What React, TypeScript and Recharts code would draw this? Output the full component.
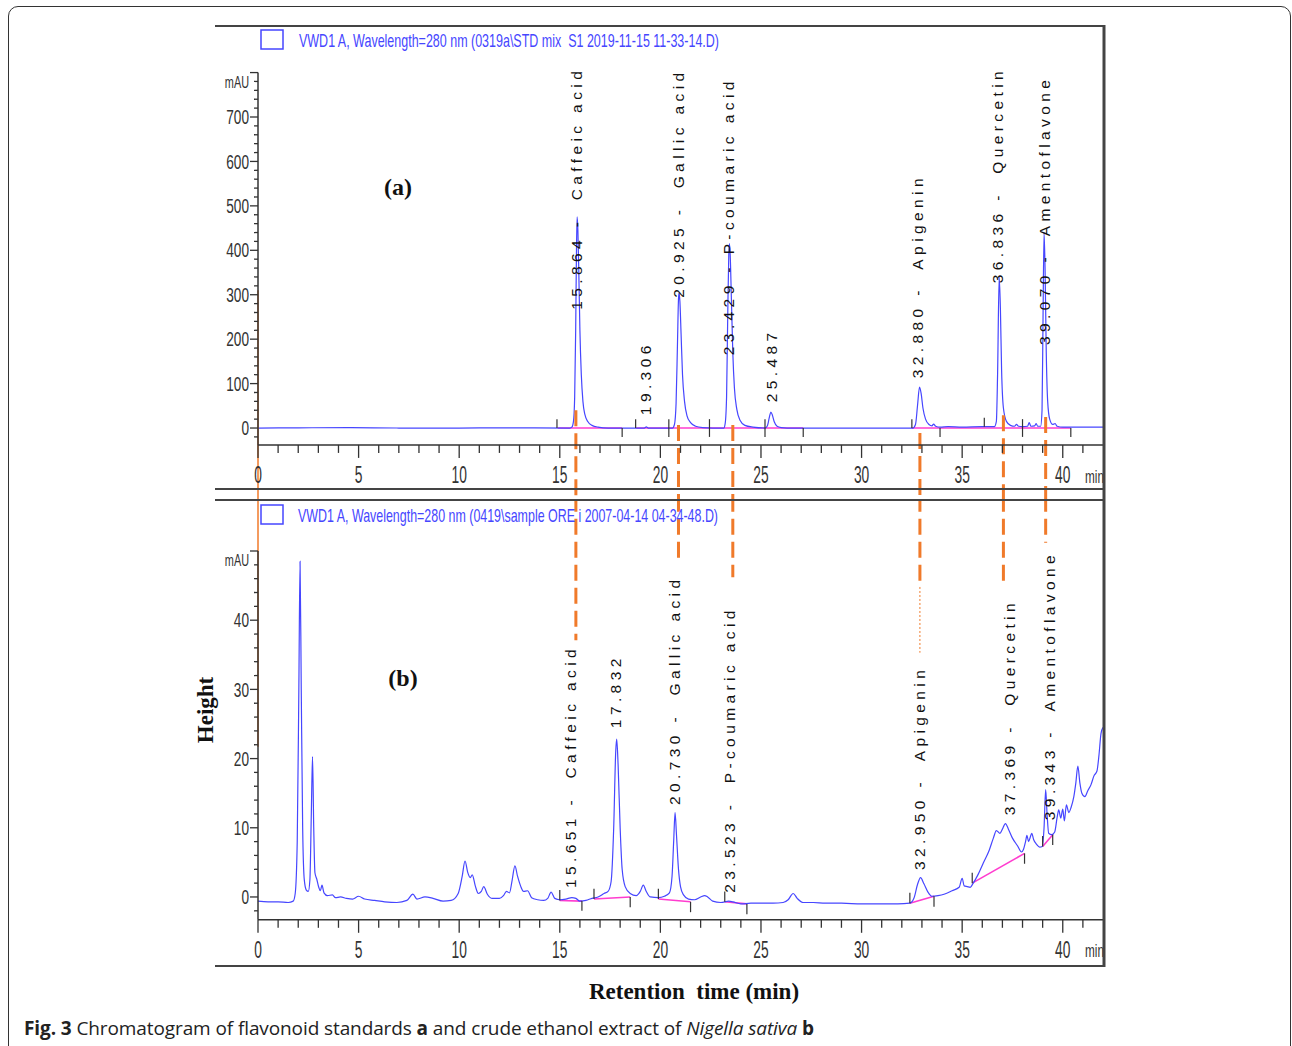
import React from 'react';
import { LineChart, Line, XAxis, YAxis, ReferenceLine, ReferenceDot } from 'recharts';

document.body.style.margin = '0';
document.documentElement.style.overflow = 'hidden';

// ---- data: panel (a) standards ----
const seriesNameA = 'VWD1 A, Wavelength=280 nm (0319a\\STD mix  S1 2019-11-15 11-33-14.D)';
const traceA: [number, number][] = [
  [0, 0], [2, 0.5], [4.5, 1], [7, 0], [10, 0], [12, 0.5], [15.5, 0], [15.6, 2], [15.68, 15], [15.74, 70],
  [15.79, 220], [15.83, 400], [15.86, 475], [15.9, 445], [15.95, 340], [16.0, 220], [16.07, 120], [16.15, 60],
  [16.25, 30], [16.4, 14], [16.6, 6], [16.9, 2], [17.4, 0], [19.2, 0], [19.3, 2.5], [19.4, 0], [20.6, 0],
  [20.7, 8], [20.78, 55], [20.85, 190], [20.9, 290], [20.93, 305], [20.97, 285], [21.03, 210], [21.1, 120],
  [21.2, 60], [21.32, 28], [21.5, 12], [21.75, 4], [22.1, 1], [22.6, 0], [23.15, 0], [23.22, 10], [23.29, 70],
  [23.35, 260], [23.4, 390], [23.43, 415], [23.47, 390], [23.53, 290], [23.6, 170], [23.68, 90], [23.8, 42],
  [23.95, 18], [24.2, 6], [24.6, 2], [25.2, 0], [25.32, 5], [25.42, 25], [25.49, 36], [25.56, 30], [25.66, 14],
  [25.8, 4], [26.0, 1], [26.3, 0], [32.55, 0], [32.68, 8], [32.78, 50], [32.88, 92], [32.96, 78], [33.05, 45],
  [33.18, 20], [33.35, 8], [33.5, 5], [33.58, 9], [33.68, 4], [33.9, 2], [34.3, 3], [35, 2], [36, 3], [36.6, 3],
  [36.7, 15], [36.76, 120], [36.84, 340], [36.9, 270], [36.96, 130], [37.05, 45], [37.2, 15], [37.4, 6],
  [37.6, 4], [37.7, 8], [37.8, 4], [38.0, 3], [38.25, 4], [38.33, 12], [38.42, 4], [38.6, 5], [38.68, 10],
  [38.75, 4], [38.9, 4], [38.97, 40], [39.02, 250], [39.07, 440], [39.12, 360], [39.18, 170], [39.25, 60],
  [39.35, 20], [39.5, 8], [39.62, 10], [39.72, 4], [40.0, 2], [41, 2], [42, 2],
];
const peaksA = [
  { t: 15.85, v: 266, text: '15.864 -  Caffeic acid' },
  { t: 19.28, v: 29, text: '19.306' },
  { t: 20.92, v: 293, text: '20.925 -  Gallic acid' },
  { t: 23.41, v: 164, text: '23.429 - P-coumaric acid' },
  { t: 25.5, v: 58, text: '25.487' },
  { t: 32.8, v: 112, text: '32.880 -  Apigenin' },
  { t: 36.77, v: 326, text: '36.836 -  Quercetin' },
  { t: 39.07, v: 187, text: '39.070 -  Amentoflavone' },
];
const baselinesA: [number, number, number, number][] = [
  [14.9, 0, 18.1, 0], [18.8, 0, 27.1, 0], [32.5, 0, 40.4, 0],
];
const marksA: [number, number, number][] = [
  [14.86, 0, 20], [18.1, 0, -20], [18.77, 0, 20], [20.42, 20, -20], [22.44, 20, -20], [25.2, 20, -20],
  [27.1, 0, -20], [32.5, 0, 20], [33.9, 0, -20], [36.1, 3, 23], [38.0, 20, -20], [40.4, 0, -20],
];
const yTicksA = [-20, 0, 20, 40, 60, 80, 100, 120, 140, 160, 180, 200, 220, 240, 260, 280, 300, 320, 340, 360,
  380, 400, 420, 440, 460, 480, 500, 520, 540, 560, 580, 600, 620, 640, 660, 680, 700, 720, 740, 760, 780, 800];
const yLabelsA = [0, 100, 200, 300, 400, 500, 600, 700];

// ---- data: panel (b) Nigella sativa extract ----
const seriesNameB = 'VWD1 A, Wavelength=280 nm (0419\\sample ORE i 2007-04-14 04-34-48.D)';
const traceB: [number, number][] = [
  [0, -0.6], [0.5, -0.7], [1.0, -0.7], [1.5, -0.8], [1.75, -0.6], [1.85, 0.5], [1.95, 8], [2.03, 30], [2.09, 48.5],
  [2.15, 30], [2.22, 10], [2.3, 2.5], [2.4, 1.0], [2.5, 0.8], [2.58, 2.5], [2.65, 12], [2.71, 20.3], [2.77, 10],
  [2.83, 3.5], [2.92, 2.6], [3.02, 1.4], [3.1, 0.9], [3.18, 1.7], [3.28, 0.6], [3.45, 0.2], [3.7, 0.3], [3.85, -0.1],
  [4.1, 0.0], [4.4, -0.2], [4.7, -0.3], [5.0, 0.1], [5.3, -0.3], [5.8, -0.5], [6.3, -0.7], [6.9, -0.8], [7.4, -0.5],
  [7.7, 0.4], [7.9, -0.3], [8.3, 0.0], [8.7, -0.2], [9.2, -0.6], [9.6, -0.5], [9.95, 0.5], [10.15, 3.0], [10.29, 5.2],
  [10.42, 3.6], [10.55, 2.8], [10.65, 3.2], [10.8, 1.6], [10.95, 0.5], [11.1, 0.8], [11.22, 1.5], [11.4, 0.4],
  [11.65, -0.2], [12.0, -0.2], [12.2, 0.2], [12.35, 0.8], [12.5, 0.6], [12.62, 2.2], [12.77, 4.5], [12.9, 3.0],
  [13.05, 1.6], [13.2, 0.8], [13.4, 0.9], [13.6, -0.1], [13.9, -0.4], [14.2, -0.5], [14.4, -0.2], [14.57, 0.7],
  [14.75, -0.2], [15.0, -0.4], [15.3, -0.3], [15.6, -0.1], [15.8, -0.2], [16.0, -0.6], [16.3, -0.5], [16.6, -0.2],
  [16.9, 0.0], [17.2, 0.5], [17.4, 0.8], [17.55, 2.2], [17.68, 10], [17.78, 21], [17.83, 22.8], [17.9, 19],
  [18.0, 10], [18.1, 4], [18.25, 1.5], [18.5, 0.5], [18.8, 0.2], [19.0, 0.8], [19.15, 1.7], [19.3, 0.8], [19.5, 0.0],
  [19.9, -0.1], [20.2, 0.1], [20.45, 0.6], [20.58, 3], [20.66, 8], [20.73, 12.2], [20.8, 9], [20.9, 4], [21.0, 1.5],
  [21.15, 0.3], [21.4, -0.3], [21.7, -0.4], [22.0, 0.0], [22.2, 0.2], [22.35, 0.0], [22.6, -0.6], [23.0, -0.8],
  [23.4, -0.6], [23.6, -0.7], [24.0, -1.0], [24.5, -0.9], [25.0, -0.9], [25.6, -0.9], [26.1, -0.8], [26.35, -0.4],
  [26.6, 0.5], [26.8, -0.2], [27.1, -0.8], [27.6, -0.8], [28.2, -0.9], [29.0, -0.9], [30.0, -1.0], [31.0, -1.0],
  [31.8, -1.0], [32.4, -0.9], [32.6, -0.2], [32.78, 1.8], [32.93, 2.8], [33.1, 1.9], [33.3, 0.7], [33.5, 0.1],
  [33.8, 0.2], [34.1, 0.4], [34.5, 0.9], [34.85, 1.4], [35.0, 2.7], [35.1, 1.6], [35.25, 1.5], [35.4, 1.4],
  [35.55, 2.0], [35.8, 3.3], [36.05, 4.9], [36.35, 6.8], [36.55, 8.5], [36.7, 9.6], [36.88, 9.2], [37.0, 9.8],
  [37.15, 10.6], [37.3, 9.8], [37.5, 8.5], [37.75, 7.4], [37.95, 6.5], [38.05, 6.9], [38.15, 8.0], [38.22, 8.9],
  [38.3, 8.0], [38.38, 8.6], [38.46, 9.2], [38.55, 8.3], [38.7, 7.6], [38.85, 7.2], [38.98, 7.3], [39.07, 10],
  [39.15, 15.5], [39.22, 12], [39.3, 9.2], [39.45, 9.0], [39.6, 9.4], [39.72, 11.5], [39.8, 12.6], [39.9, 11.4],
  [40.0, 12.7], [40.08, 11], [40.18, 13.3], [40.3, 12.2], [40.42, 13], [40.55, 14.5], [40.65, 16.5], [40.75, 18.9],
  [40.85, 16.5], [40.95, 15.0], [41.1, 14.5], [41.25, 15.4], [41.4, 16.2], [41.55, 17.5], [41.7, 18.2],
  [41.8, 20.5], [41.9, 23.6], [42.0, 24.5],
];
const peaksB = [
  { t: 15.55, v: 1.3, text: '15.651 -  Caffeic acid' },
  { t: 17.79, v: 24.4, text: '17.832' },
  { t: 20.72, v: 13.3, text: '20.730 -  Gallic acid' },
  { t: 23.45, v: 0.6, text: '23.523 -  P-coumaric acid' },
  { t: 32.9, v: 3.9, text: '32.950 -  Apigenin' },
  { t: 37.37, v: 11.8, text: '37.369 -  Quercetin' },
  { t: 39.35, v: 11.1, text: '39.343 -  Amentoflavone' },
];
const baselinesB: [number, number, number, number][] = [
  [15.0, -0.5, 16.1, -0.6], [16.7, -0.3, 18.5, 0.0], [19.9, -0.3, 21.5, -0.7], [23.2, -0.7, 24.3, -1.0],
  [32.4, -0.9, 33.6, 0.1], [35.5, 2.0, 38.1, 6.3], [39.0, 7.3, 39.5, 9.0],
];
const marksB: [number, number, number][] = [
  [15.0, -0.5, 1.0], [16.1, -0.6, -2.0], [16.7, -0.3, 1.2], [18.5, 0.0, -1.5], [19.9, -0.3, 1.2],
  [21.5, -0.7, -2.2], [23.2, -0.7, 0.8], [24.3, -1.0, -2.5], [32.4, -0.9, 0.6], [33.6, 0.1, -1.4],
  [35.5, 2.0, 3.5], [38.1, 6.3, 4.8], [39.0, 7.3, 8.8], [39.5, 9.0, 7.5],
];
const yTicksB = [-2, 0, 2, 4, 6, 8, 10, 12, 14, 16, 18, 20, 22, 24, 26, 28, 30, 32, 34, 36, 38, 40, 42, 44, 46, 48, 50];
const yLabelsB = [0, 10, 20, 30, 40];

// ---- shared axis ticks + peak-matching guides ----
const xTicks = [0, 1, 2, 3, 4, 5, 6, 7, 8, 9, 10, 11, 12, 13, 14, 15, 16, 17, 18, 19, 20, 21, 22, 23, 24, 25,
  26, 27, 28, 29, 30, 31, 32, 33, 34, 35, 36, 37, 38, 39, 40, 41, 42];
const xLabels = [0, 5, 10, 15, 20, 25, 30, 35, 40];
const linkTimes = [15.8, 20.9, 23.6, 32.9, 37.05, 39.15];
const linkStartA = [40, 7, 7, -11, 29, 25];
const linkEndB = [37.1, 48.4, 46.2, 44.8, 44.8, 51.2];

const BLUE = '#4646ff';
const ORANGE = '#f07a2a';
const PINK = '#ff3ccf';
const AXIS = '#333';
const SANS = 'Liberation Sans, Arial, sans-serif';
const SERIF = 'Liberation Serif, Times New Roman, serif';

const dataA = traceA.map(([t, v]) => ({ t, v }));
const dataB = traceB.map(([t, v]) => ({ t, v }));

function makeYTick(labels: number[], unitAt: number) {
  return (props: any) => {
    const { x, y, payload } = props;
    const v = payload.value;
    const isUnit = v === unitAt;
    const major = isUnit || labels.includes(v);
    return (
      <g>
        <line x1={x - (major ? 8 : 4)} x2={x} y1={y} y2={y} stroke={AXIS} strokeWidth={1.3} />
        {major && (
          <text
            transform={`translate(${x - 9},${y + (isUnit ? 10 : 0)}) scale(${isUnit ? 0.68 : 0.65},1)`}
            textAnchor="end"
            dominantBaseline="central"
            fontSize={isUnit ? 16 : 21}
            fontFamily={SANS}
            fill={AXIS}
          >
            {isUnit ? 'mAU' : v}
          </text>
        )}
      </g>
    );
  };
}

const XTick = (props: any) => {
  const { x, y, payload } = props;
  const v = payload.value;
  if (v === 42) {
    return (
      <text transform={`translate(${x - 18},${y + 31}) scale(0.62,1)`} dominantBaseline="central"
        fontSize={19} fontFamily={SANS} fill={AXIS}>min</text>
    );
  }
  const major = xLabels.includes(v);
  return (
    <g>
      <line x1={x} x2={x} y1={y} y2={y + (major ? 13 : 8)} stroke={AXIS} strokeWidth={1.3} />
      {major && (
        <text transform={`translate(${x},${y + 30}) scale(0.6,1)`} textAnchor="middle" dominantBaseline="central"
          fontSize={23} fontFamily={SANS} fill={AXIS}>{v}</text>
      )}
    </g>
  );
};

const peakLabel = (text: string) => (p: any) => (
  <text
    transform={`translate(${p.cx},${p.cy}) rotate(-90)`}
    dominantBaseline="central"
    fontSize={15.5}
    fontFamily={SANS}
    letterSpacing={4.4}
    fill="#111"
    style={{ whiteSpace: 'pre' }}
  >
    {text}
  </text>
);

function Panel(props: {
  data: { t: number; v: number }[];
  name: string;
  height: number;
  top: number;
  xAxisHeight: number;
  domain: [number, number];
  yTicks: number[];
  yLabels: number[];
  peaks: { t: number; v: number; text: string }[];
  baselines: [number, number, number, number][];
  marks: [number, number, number][];
  children?: React.ReactNode;
}) {
  const { data, name, height, top, xAxisHeight, domain, yTicks, yLabels, peaks, baselines, marks } = props;
  return (
    <LineChart width={910} height={height} data={data} margin={{ top, right: 7, bottom: 0, left: 0 }}>
      <XAxis
        dataKey="t"
        type="number"
        domain={[0, 42]}
        ticks={xTicks}
        interval={0}
        allowDataOverflow
        tickSize={0}
        tickMargin={0}
        tickLine={false}
        tick={XTick}
        height={xAxisHeight}
        axisLine={{ stroke: AXIS, strokeWidth: 1.5 }}
      />
      <YAxis
        type="number"
        domain={domain}
        ticks={yTicks}
        interval={0}
        allowDataOverflow
        width={58}
        tickSize={0}
        tickMargin={0}
        tickLine={false}
        tick={makeYTick(yLabels, domain[1])}
        axisLine={{ stroke: AXIS, strokeWidth: 1.5 }}
      />
      {baselines.map(([x1, y1, x2, y2], i) => (
        <ReferenceLine key={'bl' + i} segment={[{ x: x1, y: y1 }, { x: x2, y: y2 }]} stroke={PINK} strokeWidth={1.6} ifOverflow="visible" />
      ))}
      <Line
        type="monotone"
        dataKey="v"
        name={name}
        stroke={BLUE}
        strokeWidth={1.2}
        dot={false}
        isAnimationActive={false}
      />
      {marks.map(([t, a, b], i) => (
        <ReferenceLine key={'mk' + i} segment={[{ x: t, y: a }, { x: t, y: b }]} stroke="#333" strokeWidth={1.2} ifOverflow="visible" />
      ))}
      {props.children}
      {peaks.map((p, i) => (
        <ReferenceDot key={'pk' + i} x={p.t} y={p.v} r={0} ifOverflow="visible" shape={peakLabel(p.text)} />
      ))}
    </LineChart>
  );
}

export default function App() {
  return (
    <div style={{ position: 'relative', width: 1292, height: 1046, background: '#fff', overflow: 'hidden' }}>
      <div
        style={{
          position: 'absolute', left: 8, top: 6, width: 1283, height: 1080, boxSizing: 'border-box',
          border: '1.5px solid #333', borderRadius: 10,
        }}
      />
      <div style={{ position: 'absolute', left: 200, top: 20 }}>
        <Panel
          data={dataA}
          name={seriesNameA}
          height={480}
          top={52.57}
          xAxisHeight={55.09}
          domain={[-38, 800]}
          yTicks={yTicksA}
          yLabels={yLabelsA}
          peaks={peaksA}
          baselines={baselinesA}
          marks={marksA}
        >
          <ReferenceLine segment={[{ x: 0, y: 310 }, { x: 0, y: -165 }]} stroke={ORANGE} strokeWidth={1.5} ifOverflow="visible" />
          {linkTimes.map((t, i) => (
            <ReferenceLine key={'la' + i} segment={[{ x: t, y: linkStartA[i] }, { x: t, y: -165 }]}
              stroke={ORANGE} strokeWidth={3} strokeDasharray="16 7" ifOverflow="visible" />
          ))}
        </Panel>
      </div>
      <div style={{ position: 'absolute', left: 200, top: 500 }}>
        <Panel
          data={dataB}
          name={seriesNameB}
          height={466}
          top={51}
          xAxisHeight={46.2}
          domain={[-3.3, 50]}
          yTicks={yTicksB}
          yLabels={yLabelsB}
          peaks={peaksB}
          baselines={baselinesB}
          marks={marksB}
        >
          <ReferenceLine segment={[{ x: 0, y: 58 }, { x: 0, y: 21.7 }]} stroke={ORANGE} strokeWidth={1.5} ifOverflow="visible" />
          {linkTimes.map((t, i) => (
            <ReferenceLine key={'lb' + i} segment={[{ x: t, y: 58 }, { x: t, y: linkEndB[i] }]}
              stroke={ORANGE} strokeWidth={3} strokeDasharray="16 7" ifOverflow="visible" />
          ))}
          <ReferenceLine segment={[{ x: 32.9, y: 44.8 }, { x: 32.9, y: 35.3 }]} stroke={ORANGE} strokeWidth={1}
            strokeDasharray="2 2" ifOverflow="visible" />
        </Panel>
      </div>
      <svg width={1292} height={1046} style={{ position: 'absolute', left: 0, top: 0, pointerEvents: 'none' }}>
        <g stroke="#444" strokeWidth={2}>
          <line x1={215} x2={1104} y1={26} y2={26} />
          <line x1={215} x2={1104} y1={489} y2={489} />
          <line x1={215} x2={1104} y1={500} y2={500} />
          <line x1={215} x2={1104} y1={966} y2={966} />
        </g>
        <line x1={1104} x2={1104} y1={25} y2={967} stroke="#444" strokeWidth={3} />
        <rect x={261} y={30} width={22} height={19} fill="none" stroke={BLUE} strokeWidth={1.5} />
        <text x={299} y={40} dominantBaseline="central" fontSize={19} fontFamily={SANS} fill={BLUE}
          textLength={420} lengthAdjust="spacingAndGlyphs" style={{ whiteSpace: 'pre' }}>{seriesNameA}</text>
        <rect x={261} y={505} width={22} height={19} fill="none" stroke={BLUE} strokeWidth={1.5} />
        <text x={298} y={515} dominantBaseline="central" fontSize={19} fontFamily={SANS} fill={BLUE}
          textLength={420} lengthAdjust="spacingAndGlyphs" style={{ whiteSpace: 'pre' }}>{seriesNameB}</text>
        <text x={398} y={187} textAnchor="middle" dominantBaseline="central" fontSize={24} fontWeight="bold"
          fontFamily={SERIF} fill="#111">(a)</text>
        <text x={403} y={678} textAnchor="middle" dominantBaseline="central" fontSize={24} fontWeight="bold"
          fontFamily={SERIF} fill="#111">(b)</text>
        <text transform="translate(205,710) rotate(-90)" textAnchor="middle" dominantBaseline="central" fontSize={23}
          fontWeight="bold" fontFamily={SERIF} fill="#111">Height</text>
        <text x={694} y={991} textAnchor="middle" dominantBaseline="central" fontSize={23} fontWeight="bold"
          fontFamily={SERIF} fill="#111" style={{ whiteSpace: 'pre' }}>Retention  time (min)</text>
      </svg>
      <div
        style={{
          position: 'absolute', left: 24, top: 1015, fontFamily: 'Open Sans, sans-serif', fontSize: 19,
          lineHeight: '26px', color: '#222', letterSpacing: -0.1, whiteSpace: 'nowrap',
        }}
      >
        <b>Fig. 3</b> Chromatogram of flavonoid standards <b>a</b> and crude ethanol extract of{' '}
        <i>Nigella sativa</i> <b>b</b>
      </div>
    </div>
  );
}
